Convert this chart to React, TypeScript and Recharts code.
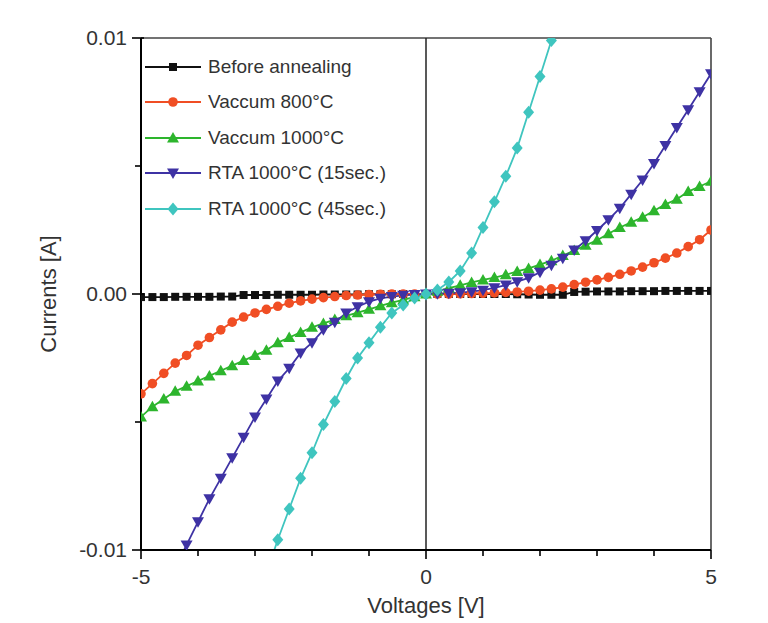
import { LineChart, Line, XAxis, YAxis, ReferenceLine, Legend, Label } from "recharts";

const FONT = '"Liberation Sans", Arial, sans-serif';
const TEXT = "#333";

// sweep voltage, 0.2 V steps
const voltages = [
  -5, -4.8, -4.6, -4.4, -4.2,
  -4, -3.8, -3.6, -3.4, -3.2,
  -3, -2.8, -2.6, -2.4, -2.2,
  -2, -1.8, -1.6, -1.4, -1.2,
  -1, -0.8, -0.6, -0.4, -0.2,
  0, 0.2, 0.4, 0.6, 0.8,
  1, 1.2, 1.4, 1.6, 1.8,
  2, 2.2, 2.4, 2.6, 2.8,
  3, 3.2, 3.4, 3.6, 3.8,
  4, 4.2, 4.4, 4.6, 4.8,
  5,
];

const beforeAnnealing = [
  -0.00012, -0.00012, -0.00012, -0.00011, -0.00011,
  -0.00011, -0.00011, -0.0001, -0.0001, -0.00004,
  -0.00004, -0.00004, -0.00003, -0.00003, -0.00003,
  -0.00003, -0.00002, -0.00002, -0.00002, -0.00002,
  -0.00001, -0.00001, -0.00001, 0, 0,
  0, 0, 0, 0, 0,
  0, 0, 0, -0.00001, -0.00002,
  -0.00003, -0.00003, -0.00003, 0.00008, 0.00009,
  0.0001, 0.0001, 0.0001, 0.00011, 0.00011,
  0.00011, 0.00012, 0.00012, 0.00012, 0.00012,
  0.00012,
];

const vacuum800 = [
  -0.0039, -0.0035, -0.0031, -0.0027, -0.0024,
  -0.002, -0.0017, -0.0014, -0.0011, -0.0009,
  -0.00074, -0.0006, -0.00048, -0.00036, -0.00027,
  -0.0002, -0.00014, -0.0001, -0.00006, -0.00004,
  -0.00002, -0.00001, 0, 0, 0,
  0, 0, 0, 0.00001, 0.00002,
  0.00003, 0.00004, 0.00006, 0.00008, 0.00011,
  0.00015, 0.0002, 0.00027, 0.00037, 0.00046,
  0.00055, 0.00065, 0.00077, 0.0009, 0.00105,
  0.00122, 0.0014, 0.0016, 0.00185, 0.00212,
  0.0025,
];

const vacuum1000 = [
  -0.0048, -0.0044, -0.0041, -0.0038, -0.0036,
  -0.0034, -0.0032, -0.003, -0.0028, -0.0026,
  -0.0024, -0.0022, -0.0019, -0.0017, -0.0015,
  -0.0013, -0.00115, -0.001, -0.00085, -0.00073,
  -0.0006, -0.00046, -0.00034, -0.00023, -0.00011,
  0, 0.00011, 0.00023, 0.00034, 0.00045,
  0.00055, 0.00064, 0.00075, 0.00088, 0.001,
  0.00115, 0.0013, 0.0015, 0.0017, 0.0019,
  0.0021, 0.00235, 0.0026, 0.0028, 0.003,
  0.00325, 0.0035, 0.0037, 0.004, 0.0042,
  0.0044,
];

const rta15 = [
  null, null, null, -0.0107, -0.0098,
  -0.0089, -0.008, -0.0072, -0.0064, -0.0056,
  -0.0048, -0.0041, -0.0034, -0.0029, -0.0023,
  -0.0019, -0.0014, -0.0011, -0.00074, -0.0005,
  -0.0003, -0.00017, -0.0001, -0.00005, -0.00002,
  0, 0.00001, 0.00003, 0.00005, 0.00009,
  0.00015, 0.00024, 0.00035, 0.00048, 0.00063,
  0.00085, 0.00112, 0.0014, 0.00172, 0.00208,
  0.00248, 0.0029, 0.00335, 0.0039, 0.00445,
  0.0051, 0.0058, 0.0065, 0.0072, 0.0079,
  0.0086,
];

const rta45 = [
  null, null, null, null, null,
  null, null, null, null, null,
  null, -0.0109, -0.0096, -0.0084, -0.0072,
  -0.0062, -0.0051, -0.0042, -0.0033, -0.0025,
  -0.0019, -0.0013, -0.00074, -0.00043, -0.00016,
  0, 0.00016, 0.00047, 0.0009, 0.0016,
  0.0026, 0.0036, 0.0046, 0.0057, 0.0071,
  0.0085, 0.0099, null, null, null,
  null, null, null, null, null,
  null, null, null, null, null,
  null,
];

const xTicks = [-5, -4, -3, -2, -1, 0, 1, 2, 3, 4, 5];
const yTicks = [-0.01, -0.005, 0, 0.005, 0.01];

const series = [
  { key: "before", name: "Before annealing", color: "#111111", shape: "square", values: beforeAnnealing },
  { key: "v800", name: "Vaccum 800°C", color: "#f04e24", shape: "circle", values: vacuum800 },
  { key: "v1000", name: "Vaccum 1000°C", color: "#2db52d", shape: "up", values: vacuum1000 },
  { key: "rta15", name: "RTA 1000°C (15sec.)", color: "#3e32a4", shape: "down", values: rta15 },
  { key: "rta45", name: "RTA 1000°C (45sec.)", color: "#3fc5bf", shape: "diamond", values: rta45 },
];

const data = voltages.map((v, i) => {
  const row: Record<string, number | null> = { v };
  series.forEach((s) => {
    row[s.key] = s.values[i];
  });
  return row;
});

function Marker({ shape, cx, cy, color }: { shape: string; cx: number; cy: number; color: string }) {
  if (shape === "square") return <rect x={cx - 4} y={cy - 4} width={8} height={8} fill={color} />;
  if (shape === "circle") return <circle cx={cx} cy={cy} r={4.8} fill={color} />;
  if (shape === "up") return <path d={`M${cx},${cy - 6}L${cx + 6},${cy + 4.5}L${cx - 6},${cy + 4.5}Z`} fill={color} />;
  if (shape === "down") return <path d={`M${cx},${cy + 6}L${cx + 6},${cy - 4.5}L${cx - 6},${cy - 4.5}Z`} fill={color} />;
  return <path d={`M${cx},${cy - 6.5}L${cx + 5.5},${cy}L${cx},${cy + 6.5}L${cx - 5.5},${cy}Z`} fill={color} />;
}

const makeDot = (shape: string, color: string) => (p: any) => {
  if (p.cx == null || p.cy == null || p.value == null) return <g key={`e-${p.index}`} />;
  return <Marker key={`d-${p.index}`} shape={shape} cx={p.cx} cy={p.cy} color={color} />;
};

const XTick = ({ x, y, payload }: any) => {
  const major = payload.value % 5 === 0;
  return (
    <g>
      <line x1={x} x2={x} y1={y} y2={y + (major ? 9 : 6)} stroke="#000" strokeWidth={1.6} />
      {major && (
        <text x={x} y={y + 34} textAnchor="middle" fontSize={21} fill={TEXT} fontFamily={FONT}>
          {payload.value}
        </text>
      )}
    </g>
  );
};

const YTick = ({ x, y, payload }: any) => {
  const v = payload.value;
  const major = v === 0 || Math.abs(v) === 0.01;
  const label = v === 0 ? "0.00" : v > 0 ? "0.01" : "-0.01";
  return (
    <g>
      <line x1={x - (major ? 9 : 6)} x2={major ? x + 3 : x} y1={y} y2={y} stroke="#000" strokeWidth={1.6} />
      {major && (
        <text x={x - 14} y={y + 7} textAnchor="end" fontSize={21} fill={TEXT} fontFamily={FONT}>
          {label}
        </text>
      )}
    </g>
  );
};

const LegendBox = () => (
  <div style={{ fontFamily: FONT, fontSize: 19, color: TEXT }}>
    {series.map((s) => (
      <div key={s.key} style={{ display: "flex", alignItems: "center", height: 35.5 }}>
        <svg width={56} height={20}>
          <line x1={0} x2={56} y1={10} y2={10} stroke={s.color} strokeWidth={1.8} />
          <Marker shape={s.shape} cx={28} cy={10} color={s.color} />
        </svg>
        <span style={{ marginLeft: 7, whiteSpace: "nowrap" }}>{s.name}</span>
      </div>
    ))}
  </div>
);

export default function App() {
  return (
    <div style={{ width: 760, height: 615, background: "#fff" }}>
      <LineChart width={760} height={615} data={data} margin={{ top: 30, right: 57, bottom: 33, left: 73 }}>
        <XAxis
          type="number"
          dataKey="v"
          domain={[-5, 5]}
          ticks={xTicks}
          interval={0}
          allowDataOverflow
          height={40}
          tickSize={0}
          tickMargin={0}
          tickLine={false}
          tick={<XTick />}
          axisLine={{ stroke: "#000", strokeWidth: 2 }}
        >
          <Label
            content={({ viewBox }: any) => (
              <text
                x={viewBox.x + viewBox.width / 2}
                y={viewBox.y + 63}
                textAnchor="middle"
                fontSize={22}
                fill={TEXT}
                fontFamily={FONT}
              >
                Voltages [V]
              </text>
            )}
          />
        </XAxis>
        <YAxis
          type="number"
          domain={[-0.01, 0.01]}
          ticks={yTicks}
          interval={0}
          allowDataOverflow
          width={60}
          tickSize={0}
          tickMargin={0}
          tickLine={false}
          tick={<YTick />}
          axisLine={{ stroke: "#000", strokeWidth: 2 }}
        >
          <Label
            content={({ viewBox }: any) => {
              const cx = viewBox.x - 25;
              const cy = viewBox.y + viewBox.height / 2;
              return (
                <text
                  x={cx}
                  y={cy}
                  textAnchor="middle"
                  fontSize={22}
                  fill={TEXT}
                  fontFamily={FONT}
                  transform={`rotate(-90, ${cx}, ${cy})`}
                >
                  Currents [A]
                </text>
              );
            }}
          />
        </YAxis>
        <ReferenceLine y={0.01} stroke="#444" strokeWidth={1.6} />
        <ReferenceLine x={5} stroke="#444" strokeWidth={1.6} />
        <ReferenceLine x={0} stroke="#222" strokeWidth={1.5} />
        <Legend
          layout="vertical"
          align="center"
          verticalAlign="middle"
          content={<LegendBox />}
          wrapperStyle={{ left: 137, top: 41, width: 260 }}
        />
        {series.map((s) => (
          <Line
            key={s.key}
            type="linear"
            dataKey={s.key}
            name={s.name}
            stroke={s.color}
            strokeWidth={1.8}
            dot={makeDot(s.shape, s.color)}
            activeDot={false}
            isAnimationActive={false}
          />
        ))}
      </LineChart>
    </div>
  );
}
